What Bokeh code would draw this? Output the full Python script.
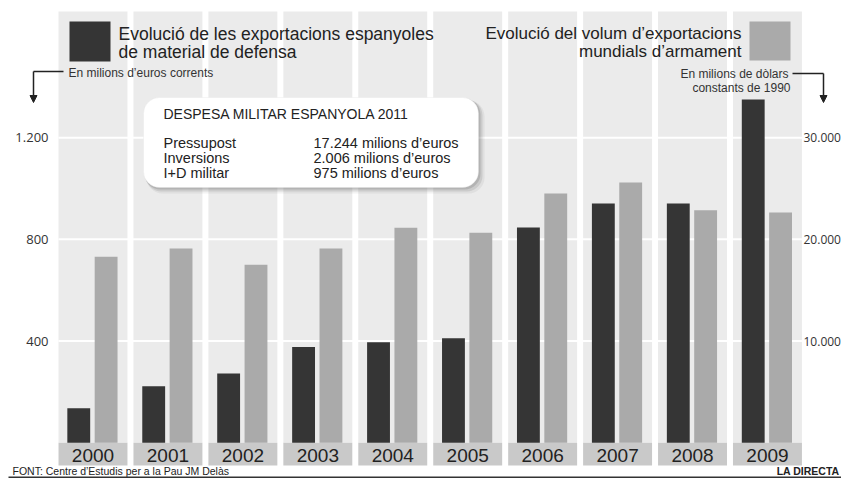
from bokeh.plotting import figure
from bokeh.models import Range1d, BoxAnnotation, Label, Arrow, NormalHead
from bokeh.core.properties import value
from bokeh.embed import file_html
from bokeh.resources import INLINE

# ---------------- data ----------------
years = ["2000", "2001", "2002", "2003", "2004", "2005", "2006", "2007", "2008", "2009"]
# Spanish exports of defence material (millions of current euros)
spain_exports = [136, 222, 272, 376, 395, 411, 847, 941, 941, 1350]
# World arms exports volume (millions of constant 1990 dollars)
world_exports = [18300, 19100, 17500, 19100, 21150, 20650, 24500, 25600, 22850, 22650]

left_ticks = [400, 800, 1200]
left_tick_labels = ["400", "800", "1.200"]
right_ticks = [10000, 20000, 30000]
right_tick_labels = ["10.000", "20.000", "30.000"]

legend_left = ["Evolució de les exportacions espanyoles", "de material de defensa"]
legend_right = ["Evolució del volum d’exportacions", "mundials d’armament"]
unit_left = "En milions d’euros corrents"
unit_right = ["En milions de dòlars", "constants de 1990"]

info_title = "DESPESA MILITAR ESPANYOLA 2011"
info_items = ["Pressupost", "Inversions", "I+D militar"]
info_values = ["17.244 milions d’euros", "2.006 milions  d’euros", "975 milions d’euros"]

source_text = "FONT: Centre d’Estudis per a la Pau JM Delàs"
credit_text = "LA DIRECTA"

# ---------------- layout helpers (pixel -> data) ----------------
W, H = 841, 478
COL0_PX = 92.5          # centre of first column, px
COL_STEP = 74.94        # px between columns
ZERO_PX = 442.2         # y pixel of value 0
PX_Y = 0.2542           # px per left-axis unit
RATIO = 25              # right axis / left axis

X0, X1 = -COL0_PX / COL_STEP, (W - COL0_PX) / COL_STEP
Y1, Y0 = ZERO_PX / PX_Y, -(H - ZERO_PX) / PX_Y


def dx(px):
    return (px - COL0_PX) / COL_STEP


def dy(py):
    return (ZERO_PX - py) / PX_Y


FONT = "Liberation Sans"
TICK_FONT = "Open Sans"
DARK = "#353535"
LIGHT = "#aaaaaa"
BAND = "#ebebeb"
YEARBOX = "#c9c9c9"
TEXT = "#222222"

p = figure(width=W, height=H, x_range=Range1d(X0, X1), y_range=Range1d(Y0, Y1),
           output_backend="svg", toolbar_location=None,
           x_axis_location=None, y_axis_location=None,
           min_border_left=0, min_border_right=0, min_border_top=0, min_border_bottom=0)
p.extra_y_ranges = {"right": Range1d(Y0 * RATIO, Y1 * RATIO)}
p.outline_line_color = None
p.background_fill_color = "white"
p.border_fill_color = "white"
p.xgrid.visible = False
p.ygrid.visible = False

idx = list(range(len(years)))
BAND_W = 0.92

# column bands and year boxes
p.vbar(x=idx, top=dy(11), bottom=0, width=BAND_W, fill_color=BAND, line_color=None)
p.vbar(x=idx, top=0, bottom=dy(465), width=BAND_W, fill_color=YEARBOX, line_color=None)

# white grid lines over the bands
p.segment(x0=-BAND_W / 2, x1=len(years) - 1 + BAND_W / 2, y0=left_ticks, y1=left_ticks,
          line_color="white", line_width=2)

# tick labels (left: euros, right: dollars)
p.text(x=dx(48), y=left_ticks, text=left_tick_labels, text_align="right", text_baseline="middle",
       text_font=value(TICK_FONT), text_font_size="13px", text_color="#333333")
p.text(x=dx(803), y=right_ticks, text=right_tick_labels, text_align="left", text_baseline="middle",
       text_font=value(TICK_FONT), text_font_size="12px", text_color="#333333",
       y_range_name="right")

# bars
p.vbar(x=[i - 0.19 for i in idx], top=spain_exports, bottom=0, width=0.305,
       fill_color=DARK, line_color=None)
p.vbar(x=[i + 0.175 for i in idx], top=world_exports, bottom=0, width=0.305,
       fill_color=LIGHT, line_color=None, y_range_name="right")

# year labels
p.text(x=idx, y=dy(455), text=years, text_align="center", text_baseline="middle",
       text_font=value(FONT), text_font_size="19px", text_color=TEXT)

# legends
p.quad(left=dx(69), right=dx(110), top=dy(21), bottom=dy(61), fill_color=DARK, line_color=None)
p.quad(left=dx(749), right=dx(790), top=dy(21), bottom=dy(60), fill_color=LIGHT, line_color=None)
p.text(x=dx(118), y=[dy(33), dy(51)], text=legend_left, text_align="left", text_baseline="middle",
       text_font=value(FONT), text_font_size="17.5px", text_color=TEXT)
p.text(x=dx(741), y=[dy(33), dy(51)], text=legend_right, text_align="right", text_baseline="middle",
       text_font=value(FONT), text_font_size="17px", text_color=TEXT)

p.text(x=dx(68), y=dy(72), text=[unit_left], text_align="left", text_baseline="middle",
       text_font=value(FONT), text_font_size="12px", text_color="#333333")
p.text(x=[dx(788), dx(790)], y=[dy(73), dy(87)], text=unit_right, text_align="right",
       text_baseline="middle", text_font=value(FONT), text_font_size="12px", text_color="#333333")

# arrows
AC = "#222222"
p.add_layout(Arrow(end=None, x_start=dx(63), y_start=dy(71), x_end=dx(33), y_end=dy(71),
                   line_color=AC, line_width=1.5))
p.add_layout(Arrow(end=NormalHead(size=7, fill_color=AC, line_color=AC),
                   x_start=dx(33), y_start=dy(71), x_end=dx(33), y_end=dy(102),
                   line_color=AC, line_width=1.5))
p.add_layout(Arrow(end=None, x_start=dx(792), y_start=dy(73), x_end=dx(823), y_end=dy(73),
                   line_color=AC, line_width=1.5))
p.add_layout(Arrow(end=NormalHead(size=7, fill_color=AC, line_color=AC),
                   x_start=dx(823), y_start=dy(73), x_end=dx(823), y_end=dy(102),
                   line_color=AC, line_width=1.5))

# info box with soft shadow
for off, alpha in [(6, 0.08), (4, 0.14), (2, 0.2)]:
    p.add_layout(BoxAnnotation(left=dx(143 + off * 0.5), right=dx(478 + off), top=dy(97 + off * 0.5),
                               bottom=dy(187 + off), fill_color="#555555", fill_alpha=alpha,
                               line_color=None, border_radius=16))
p.add_layout(BoxAnnotation(left=dx(143), right=dx(478), top=dy(97), bottom=dy(187),
                           fill_color="white", fill_alpha=1.0, line_color="#e0e0e0",
                           line_width=1, border_radius=16))

p.add_layout(Label(x=dx(163), y=dy(113), text=info_title, text_font=FONT,
                   text_font_size="14px", text_color=TEXT, text_baseline="middle"))
for k, (item, val) in enumerate(zip(info_items, info_values)):
    yy = dy(142 + 15 * k)
    p.add_layout(Label(x=dx(163), y=yy, text=item, text_font=FONT, text_font_size="14.5px",
                       text_color=TEXT, text_baseline="middle"))
    p.add_layout(Label(x=dx(313), y=yy, text=val, text_font=FONT, text_font_size="14.5px",
                       text_color=TEXT, text_baseline="middle"))

# source line
p.text(x=dx(12), y=dy(470.5), text=[source_text], text_align="left", text_baseline="middle",
       text_font=value(FONT), text_font_size="10.5px", text_color=TEXT)
p.text(x=dx(839), y=dy(470.5), text=[credit_text], text_align="right", text_baseline="middle",
       text_font=value(FONT), text_font_size="10.5px", text_font_style="bold", text_color=TEXT)
p.segment(x0=dx(8), x1=dx(841), y0=dy(477), y1=dy(477), line_color="#333333", line_width=2)

open("out.html", "w").write(file_html(p, INLINE))
